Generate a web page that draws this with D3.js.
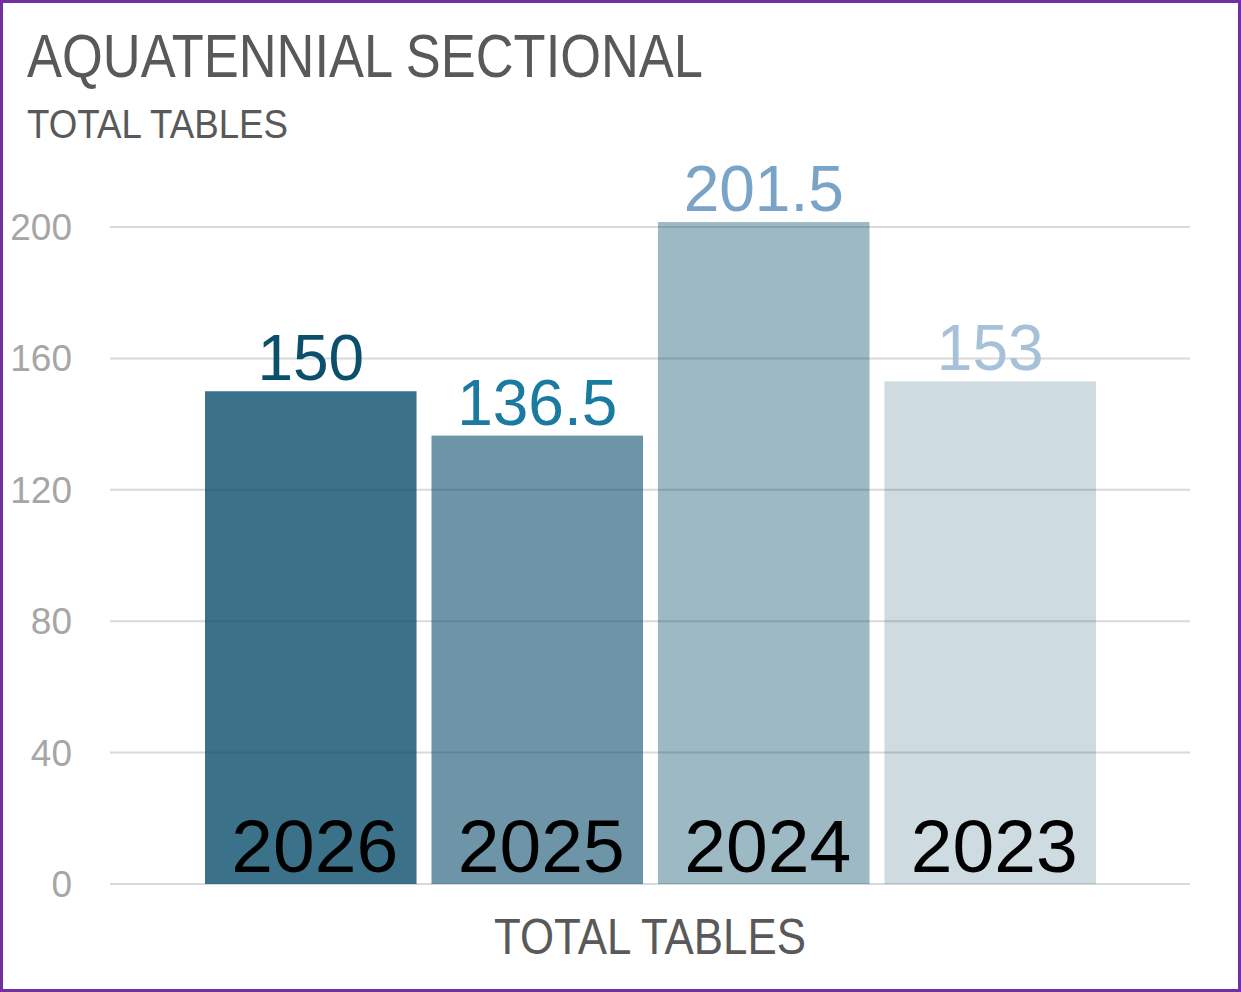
<!DOCTYPE html>
<html>
<head>
<meta charset="utf-8">
<script src="https://cdn.jsdelivr.net/npm/d3@7"></script>
<style>
  html, body { margin: 0; padding: 0; background: #fff; }
  svg { display: block; }
</style>
</head>
<body>
<script>
var width = 1241;
var height = 992;

var category = ['TOTAL TABLES'];
var years = ['2026', '2025', '2024', '2023'];
var values = [150, 136.5, 201.5, 153];
var yTicks = [0, 40, 80, 120, 160, 200];

var barColor = '#0b4f6c';
var barOpacity = [0.8, 0.6, 0.4, 0.2];
var labelColors = ['#0b4f6c', '#1a7aa0', '#7aa3c8', '#a8c1da'];

var font = '"Liberation Sans", Arial, sans-serif';

var svg = d3.select('body')
    .append('svg')
    .attr('width', width)
    .attr('height', height);

svg.append('rect')
    .attr('x', 1.5)
    .attr('y', 1.5)
    .attr('width', width - 3)
    .attr('height', height - 3)
    .attr('fill', '#fff')
    .attr('stroke', '#7030a0')
    .attr('stroke-width', 3);

// title block (narrow face squeezed with textLength)
svg.append('text')
    .attr('x', 27)
    .attr('y', 77)
    .attr('font-family', font)
    .attr('font-size', 61)
    .attr('fill', '#595959')
    .attr('textLength', 676)
    .attr('lengthAdjust', 'spacingAndGlyphs')
    .text('AQUATENNIAL SECTIONAL');

svg.append('text')
    .attr('x', 27)
    .attr('y', 138)
    .attr('font-family', font)
    .attr('font-size', 40)
    .attr('fill', '#595959')
    .attr('textLength', 261)
    .attr('lengthAdjust', 'spacingAndGlyphs')
    .text('TOTAL TABLES');

var y = d3.scaleLinear()
    .domain([0, 200])
    .range([884, 227]);

var x0 = d3.scaleBand()
    .domain(category)
    .range([110, 1190]);

var x1 = d3.scaleBand()
    .domain(years)
    .range([205, 1096])
    .paddingInner(0.066);

// gridlines
svg.append('g')
    .selectAll('line')
    .data(yTicks)
    .enter()
    .append('line')
    .attr('x1', x0.range()[0])
    .attr('x2', x0.range()[1])
    .attr('y1', function(d) { return y(d); })
    .attr('y2', function(d) { return y(d); })
    .attr('stroke', '#d9d9d9')
    .attr('stroke-width', 2);

// y tick labels
svg.append('g')
    .selectAll('text')
    .data(yTicks)
    .enter()
    .append('text')
    .attr('x', 72)
    .attr('y', function(d) { return y(d) + 13; })
    .attr('text-anchor', 'end')
    .attr('font-family', font)
    .attr('font-size', 37)
    .attr('fill', '#a6a6a6')
    .text(function(d) { return d; });

var bars = svg.append('g')
    .selectAll('g')
    .data(years)
    .enter()
    .append('g');

bars.append('rect')
    .attr('x', function(d) { return x1(d); })
    .attr('y', function(d, i) { return y(values[i]); })
    .attr('width', x1.bandwidth())
    .attr('height', function(d, i) { return y(0) - y(values[i]); })
    .attr('fill', barColor)
    .attr('fill-opacity', function(d, i) { return barOpacity[i]; });

// value labels above bars
bars.append('text')
    .attr('x', function(d) { return x1(d) + x1.bandwidth() / 2; })
    .attr('y', function(d, i) { return y(values[i]) - 11; })
    .attr('text-anchor', 'middle')
    .attr('font-family', font)
    .attr('font-size', 64)
    .attr('fill', function(d, i) { return labelColors[i]; })
    .text(function(d, i) { return values[i]; });

// year labels inside bars
bars.append('text')
    .attr('x', function(d) { return x1(d) + x1.bandwidth() / 2 + 4; })
    .attr('y', 872)
    .attr('text-anchor', 'middle')
    .attr('font-family', font)
    .attr('font-size', 75)
    .attr('fill', '#000')
    .text(function(d) { return d; });

// category axis label
svg.append('text')
    .attr('x', x0('TOTAL TABLES') + x0.bandwidth() / 2)
    .attr('y', 954)
    .attr('text-anchor', 'middle')
    .attr('font-family', font)
    .attr('font-size', 50)
    .attr('fill', '#595959')
    .attr('textLength', 312)
    .attr('lengthAdjust', 'spacingAndGlyphs')
    .text(category[0]);
</script>
</body>
</html>
